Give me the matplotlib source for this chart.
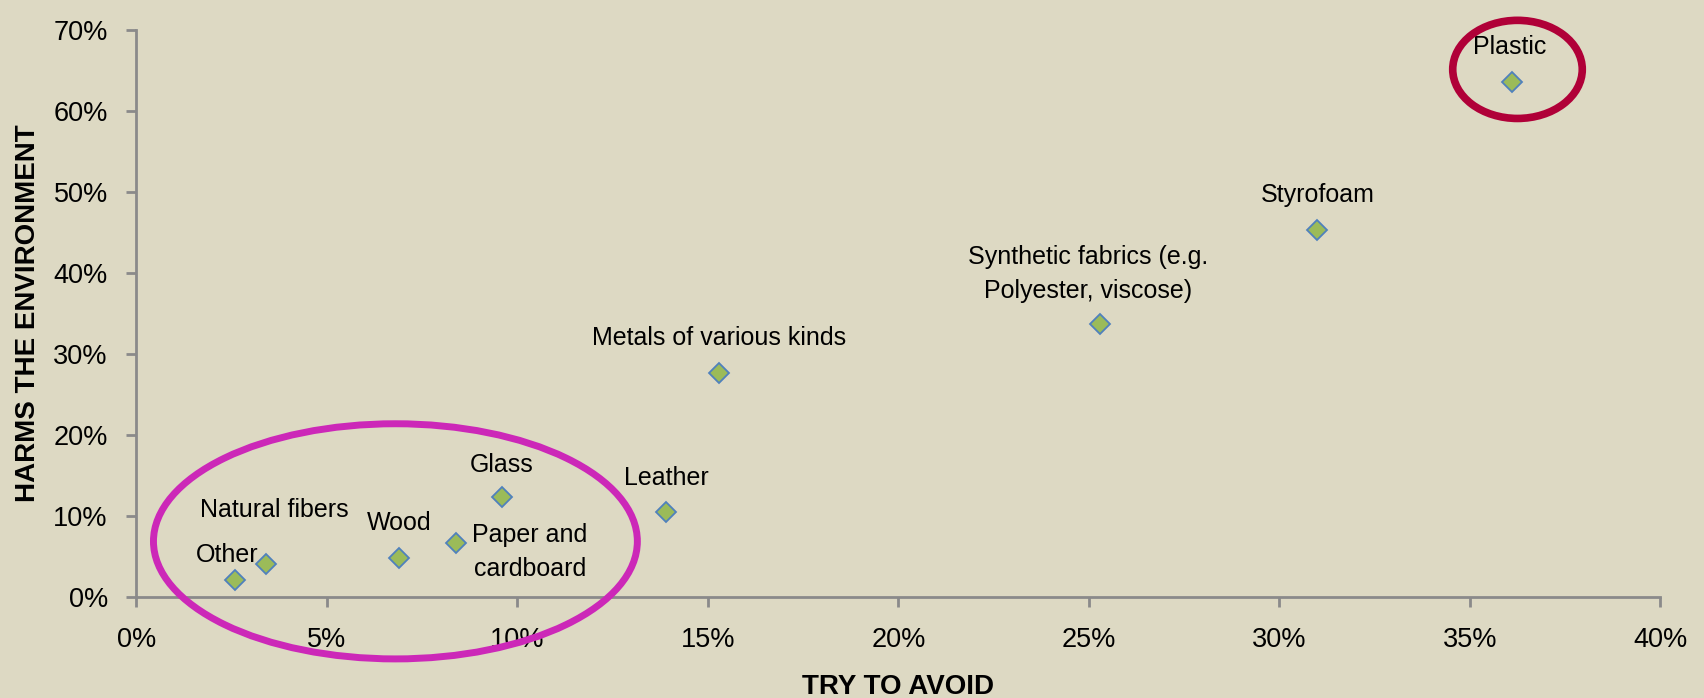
import matplotlib
matplotlib.use("Agg")
import matplotlib.pyplot as plt
from matplotlib.patches import Ellipse
from matplotlib.ticker import PercentFormatter

# values in percent
materials = ["Plastic", "Styrofoam", "Synthetic fabrics (e.g.\nPolyester, viscose)",
             "Metals of various kinds", "Leather", "Glass", "Paper and\ncardboard",
             "Wood", "Natural fibers", "Other"]
try_to_avoid = [36.1, 31.0, 25.3, 15.3, 13.9, 9.6, 8.4, 6.9, 3.4, 2.6]
harms_env = [63.5, 45.3, 33.7, 27.6, 10.5, 12.4, 6.7, 4.9, 4.1, 2.1]

# label offsets (pixels) and alignment per point
label_offsets = [(-2, 35), (0, 35), (-12, 50), (0, 35), (0, 34), (0, 32),
                 (16, -9), (0, 35), (8, 54), (-8, 25)]
label_ha = ["center", "center", "center", "center", "center", "center",
            "left", "center", "center", "center"]

bg = "#DDD9C3"
axis_col = "#8A8A8A"
plt.rcParams["font.family"] = ["Liberation Sans", "DejaVu Sans"]

fig = plt.figure(figsize=(17.04, 6.98), dpi=100, facecolor=bg)
ax = fig.add_axes([0.08, 0.1443, 0.8944, 0.8132])
ax.set_facecolor(bg)

ax.plot(try_to_avoid, harms_env, linestyle="none", marker="D", markersize=10,
        markerfacecolor="#9BBB59", markeredgecolor="#4F81BD", markeredgewidth=1.3,
        zorder=3)

for name, x, y, off, ha in zip(materials, try_to_avoid, harms_env, label_offsets, label_ha):
    ax.annotate(name, (x, y), xytext=off, textcoords="offset pixels",
                ha=ha, va="center", multialignment="center", fontsize=18,
                linespacing=1.5, color="black")

ax.set_xlim(0, 40)
ax.set_ylim(0, 70)
ax.set_xticks(range(0, 41, 5))
ax.set_yticks(range(0, 71, 10))
ax.xaxis.set_major_formatter(PercentFormatter(decimals=0))
ax.yaxis.set_major_formatter(PercentFormatter(decimals=0))

for side in ["top", "right"]:
    ax.spines[side].set_visible(False)
for side in ["left", "bottom"]:
    ax.spines[side].set_color(axis_col)
    ax.spines[side].set_linewidth(2)
ax.tick_params(axis="both", direction="out", length=7.5, width=2, color=axis_col,
               labelsize=19.5)
ax.tick_params(axis="x", pad=14)
ax.tick_params(axis="y", pad=13)

ax.set_xlabel("TRY TO AVOID", fontsize=20, fontweight="bold", labelpad=15)
ax.set_ylabel("HARMS THE ENVIRONMENT", fontsize=20, fontweight="bold", labelpad=9)

# highlight rings
ax.add_patch(Ellipse((6.8, 6.9), 12.7, 29.0, fill=False, edgecolor="#CC28B8",
                     linewidth=5, clip_on=False, zorder=4))
ax.add_patch(Ellipse((36.25, 65.1), 3.4, 12.1, fill=False, edgecolor="#B00038",
                     linewidth=5.5, clip_on=False, zorder=4))

fig.savefig("out.png", dpi=100, facecolor=bg)
